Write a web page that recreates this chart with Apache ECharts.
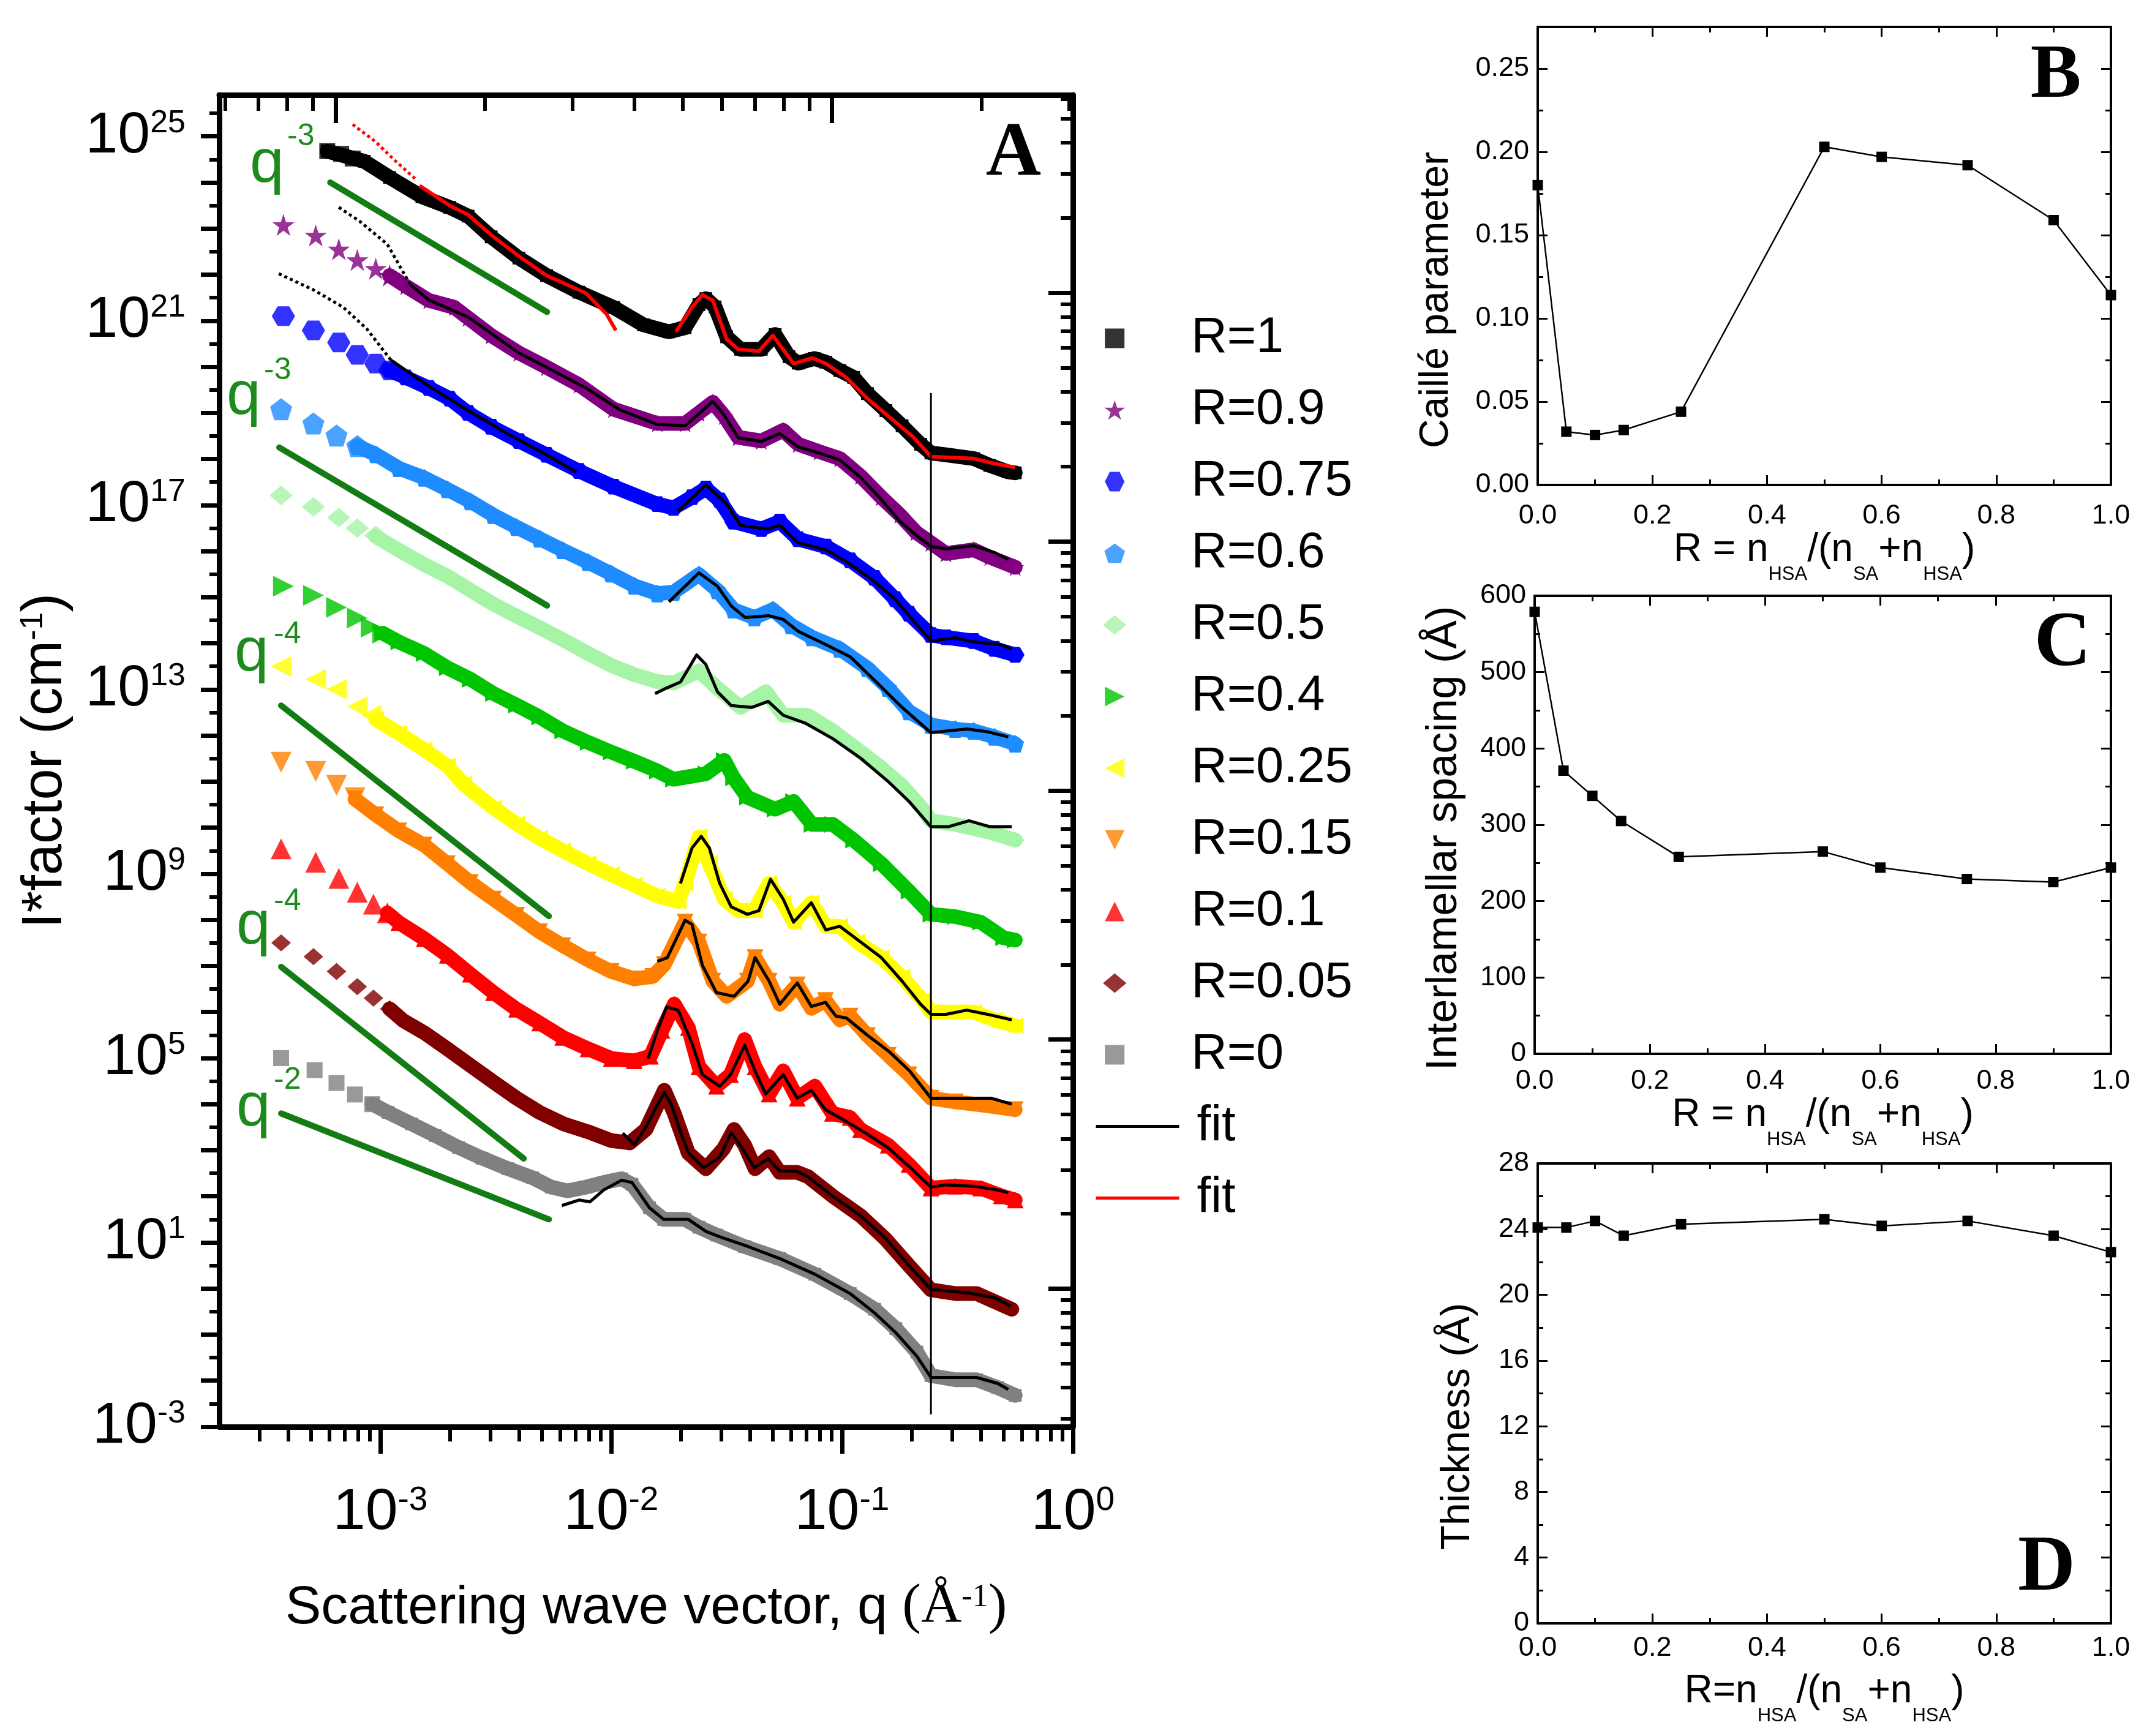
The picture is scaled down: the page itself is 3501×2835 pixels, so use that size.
<!DOCTYPE html>
<html><head><meta charset="utf-8">
<script src="https://cdn.jsdelivr.net/npm/echarts@6.0.0/dist/echarts.min.js"></script>
<style>html,body{margin:0;padding:0;background:#fff}#c{width:3501px;height:2835px}</style>
</head><body><div id="c"></div>
<script>
// ===================== DATA (panel A: log10 q [Å^-1], log10 I*factor [cm^-1]) =====================
const R1_start = [[-3.23,24.68],[-3.17,24.62],[-3.12,24.52]];
const R1_band = [[-3.23,24.68],[-3.07,24.46],[-2.96,24.11],[-2.82,23.69],[-2.70,23.46],[-2.62,23.27],[-2.52,22.82],[-2.40,22.36],[-2.28,21.98],[-2.14,21.62],[-1.99,21.29],[-1.86,20.91],[-1.75,20.76],[-1.68,20.85],[-1.62,21.35],[-1.59,21.48],[-1.55,21.30],[-1.50,20.65],[-1.44,20.38],[-1.35,20.38],[-1.29,20.70],[-1.23,20.22],[-1.19,20.08],[-1.12,20.18],[-1.07,20.10],[-1.01,19.92],[-0.95,19.77],[-0.89,19.42],[-0.81,19.05],[-0.74,18.72],[-0.66,18.32],[-0.615,18.13],[-0.55,18.09],[-0.43,18.01],[-0.36,17.86],[-0.28,17.72],[-0.25,17.70]];
const R09_start = [[-3.42,23.08],[-3.28,22.85],[-3.18,22.55],[-3.10,22.32],[-3.02,22.13],[-2.96,21.98]];
const R09_band = [[-2.96,21.98],[-2.89,21.75],[-2.79,21.44],[-2.68,21.29],[-2.62,21.06],[-2.52,20.68],[-2.40,20.30],[-2.28,19.99],[-2.14,19.61],[-1.99,19.08],[-1.80,18.77],[-1.68,18.77],[-1.62,19.00],[-1.56,19.23],[-1.51,18.93],[-1.45,18.47],[-1.35,18.39],[-1.255,18.62],[-1.19,18.32],[-1.10,18.16],[-1.01,18.01],[-0.92,17.63],[-0.83,17.17],[-0.75,16.79],[-0.68,16.41],[-0.615,16.18],[-0.55,15.95],[-0.43,16.03],[-0.36,15.87],[-0.25,15.65]];
const R075_start = [[-3.42,21.10],[-3.29,20.79],[-3.18,20.53],[-3.10,20.26],[-3.02,20.07],[-2.96,19.92]];
const R075_band = [[-2.96,19.92],[-2.89,19.77],[-2.79,19.54],[-2.70,19.31],[-2.62,19.00],[-2.52,18.70],[-2.40,18.39],[-2.28,18.09],[-2.14,17.74],[-1.99,17.40],[-1.80,17.02],[-1.73,16.94],[-1.65,17.17],[-1.59,17.36],[-1.53,17.10],[-1.47,16.64],[-1.35,16.48],[-1.27,16.64],[-1.19,16.26],[-1.07,16.10],[-0.965,15.80],[-0.86,15.42],[-0.77,14.96],[-0.71,14.64],[-0.615,14.18],[-0.55,14.13],[-0.43,14.05],[-0.34,13.88],[-0.25,13.75]];
const R06_start = [[-3.43,19.08],[-3.29,18.77],[-3.19,18.51],[-3.10,18.28]];
const R06_band = [[-3.10,18.28],[-3.02,18.10],[-2.92,17.80],[-2.81,17.59],[-2.71,17.34],[-2.61,17.08],[-2.51,16.78],[-2.41,16.52],[-2.31,16.27],[-2.21,16.02],[-2.10,15.76],[-2.00,15.51],[-1.90,15.25],[-1.80,15.08],[-1.73,15.11],[-1.62,15.49],[-1.54,15.15],[-1.47,14.73],[-1.38,14.56],[-1.30,14.73],[-1.22,14.39],[-1.13,14.13],[-1.01,13.88],[-0.89,13.46],[-0.80,13.03],[-0.71,12.52],[-0.615,12.23],[-0.51,12.14],[-0.43,12.10],[-0.34,11.97],[-0.25,11.82]];
const R05_start = [[-3.43,17.21],[-3.29,16.96],[-3.18,16.73],[-3.10,16.50],[-3.02,16.34]];
const R05_band = [[-3.02,16.32],[-2.92,16.02],[-2.81,15.71],[-2.71,15.46],[-2.61,15.15],[-2.51,14.85],[-2.41,14.59],[-2.31,14.34],[-2.21,14.08],[-2.10,13.78],[-2.00,13.52],[-1.90,13.32],[-1.80,13.17],[-1.73,13.14],[-1.62,13.40],[-1.54,13.03],[-1.44,12.61],[-1.33,12.95],[-1.255,12.44],[-1.15,12.44],[-1.04,12.10],[-0.95,11.76],[-0.84,11.34],[-0.74,10.91],[-0.65,10.40],[-0.615,10.15],[-0.51,10.07],[-0.36,9.90],[-0.25,9.73]];
const R04_start = [[-3.42,15.24],[-3.29,15.04],[-3.19,14.78],[-3.10,14.55],[-3.04,14.35],[-2.99,14.22]];
const R04_band = [[-2.99,14.22],[-2.92,14.03],[-2.81,13.78],[-2.71,13.47],[-2.61,13.22],[-2.51,12.91],[-2.41,12.66],[-2.31,12.40],[-2.21,12.10],[-2.10,11.85],[-2.00,11.64],[-1.90,11.44],[-1.80,11.23],[-1.73,11.05],[-1.59,11.17],[-1.51,11.46],[-1.47,11.08],[-1.41,10.66],[-1.29,10.40],[-1.21,10.57],[-1.13,10.07],[-1.04,10.07],[-0.95,9.73],[-0.83,9.22],[-0.71,8.62],[-0.615,8.12],[-0.51,8.07],[-0.40,7.95],[-0.30,7.61],[-0.25,7.56]];
const R025_start = [[-3.43,13.50],[-3.28,13.22],[-3.19,13.00],[-3.10,12.63],[-3.04,12.44]];
const R025_band = [[-3.02,12.35],[-2.92,12.05],[-2.81,11.69],[-2.71,11.34],[-2.64,10.95],[-2.51,10.43],[-2.41,10.08],[-2.31,9.77],[-2.21,9.50],[-2.10,9.22],[-2.00,8.98],[-1.90,8.75],[-1.80,8.52],[-1.71,8.40],[-1.68,8.79],[-1.62,9.80],[-1.575,9.22],[-1.51,8.45],[-1.45,8.20],[-1.38,8.20],[-1.316,8.79],[-1.255,8.37],[-1.21,7.95],[-1.133,8.37],[-1.07,7.86],[-1.01,7.86],[-0.935,7.52],[-0.83,7.18],[-0.74,6.76],[-0.65,6.25],[-0.615,6.00],[-0.51,6.00],[-0.43,6.00],[-0.34,5.83],[-0.25,5.70]];
const R015_start = [[-3.43,11.42],[-3.28,11.22],[-3.19,10.92],[-3.11,10.65]];
const R015_band = [[-3.11,10.62],[-3.02,10.28],[-2.92,9.93],[-2.81,9.62],[-2.71,9.22],[-2.61,8.81],[-2.51,8.45],[-2.41,8.10],[-2.31,7.74],[-2.21,7.44],[-2.10,7.13],[-2.00,6.88],[-1.90,6.72],[-1.82,6.77],[-1.77,7.03],[-1.68,7.95],[-1.62,7.52],[-1.56,6.67],[-1.50,6.34],[-1.41,6.67],[-1.377,7.18],[-1.316,6.67],[-1.27,6.17],[-1.194,6.59],[-1.133,6.08],[-1.072,6.25],[-1.01,5.83],[-0.965,5.91],[-0.89,5.49],[-0.80,5.06],[-0.71,4.64],[-0.615,4.13],[-0.51,4.05],[-0.36,3.96],[-0.25,3.88]];
const R01_start = [[-3.43,9.54],[-3.28,9.25],[-3.18,8.90],[-3.10,8.60],[-3.03,8.34],[-2.97,8.15]];
const R01_band = [[-2.97,8.15],[-2.92,7.94],[-2.81,7.59],[-2.71,7.23],[-2.61,6.82],[-2.51,6.42],[-2.41,6.06],[-2.31,5.76],[-2.21,5.45],[-2.10,5.20],[-2.00,4.99],[-1.90,4.94],[-1.83,5.04],[-1.78,5.60],[-1.727,6.17],[-1.666,5.66],[-1.62,4.81],[-1.544,4.39],[-1.483,4.64],[-1.422,5.40],[-1.377,4.81],[-1.316,4.22],[-1.255,4.72],[-1.194,4.13],[-1.118,4.39],[-1.042,3.80],[-0.965,3.71],[-0.92,3.45],[-0.80,3.11],[-0.71,2.69],[-0.615,2.18],[-0.51,2.22],[-0.40,2.18],[-0.31,2.01],[-0.25,1.92]];
const R005_start = [[-3.43,7.50],[-3.29,7.20],[-3.19,6.88],[-3.10,6.55],[-3.03,6.30],[-2.96,6.07]];
const R005_band = [[-2.96,6.07],[-2.90,5.81],[-2.81,5.55],[-2.71,5.20],[-2.61,4.84],[-2.51,4.48],[-2.41,4.13],[-2.31,3.82],[-2.205,3.57],[-2.10,3.40],[-2.00,3.21],[-1.92,3.16],[-1.85,3.45],[-1.80,3.98],[-1.77,4.30],[-1.727,3.80],[-1.666,2.94],[-1.59,2.60],[-1.514,3.03],[-1.468,3.45],[-1.422,3.11],[-1.377,2.60],[-1.316,2.86],[-1.27,2.52],[-1.194,2.52],[-1.148,2.43],[-1.042,2.01],[-0.92,1.58],[-0.813,1.08],[-0.707,0.48],[-0.615,-0.03],[-0.508,-0.11],[-0.417,-0.11],[-0.341,-0.28],[-0.265,-0.45]];
const R0_start = [[-3.43,5.00],[-3.285,4.74],[-3.19,4.46],[-3.11,4.21],[-3.035,4.00]];
const R0_band = [[-3.035,4.00],[-2.966,3.82],[-2.864,3.57],[-2.763,3.32],[-2.661,3.06],[-2.56,2.83],[-2.447,2.60],[-2.34,2.40],[-2.26,2.20],[-2.19,2.12],[-2.11,2.20],[-2.032,2.30],[-1.955,2.38],[-1.91,2.26],[-1.834,1.75],[-1.773,1.50],[-1.681,1.50],[-1.62,1.33],[-1.544,1.16],[-1.422,0.91],[-1.27,0.65],[-1.118,0.31],[-0.965,-0.11],[-0.859,-0.45],[-0.767,-0.87],[-0.676,-1.38],[-0.615,-1.89],[-0.508,-1.98],[-0.417,-1.98],[-0.326,-2.15],[-0.25,-2.32]];

// fits
const R1_fitExt = [[-3.12,25.26],[-3.02,24.88],[-2.94,24.49],[-2.84,24.04]];
const R1_fitA = [[-2.83,23.93],[-2.70,23.50],[-2.62,23.30],[-2.52,22.86],[-2.40,22.40],[-2.28,21.98],[-2.11,21.60],[-2.02,21.14],[-1.98,20.79]];
const R1_fitB = [[-1.72,20.76],[-1.65,21.29],[-1.605,21.56],[-1.56,21.44],[-1.50,20.60],[-1.45,20.38],[-1.36,20.34],[-1.30,20.68],[-1.21,20.07],[-1.13,20.19],[-1.07,20.07],[-0.98,19.76],[-0.89,19.31],[-0.80,18.93],[-0.69,18.47],[-0.615,18.05],[-0.43,18.01],[-0.34,17.90],[-0.25,17.82]];
const R09_fitExt = [[-3.18,23.46],[-3.09,23.16],[-2.97,22.66],[-2.87,21.78]];
const R09_fit = [[-2.87,21.78],[-2.79,21.45],[-2.62,21.08],[-2.40,20.30],[-2.28,19.99],[-2.11,19.54],[-1.96,19.06],[-1.80,18.75],[-1.68,18.72],[-1.62,18.98],[-1.56,19.25],[-1.51,18.95],[-1.45,18.46],[-1.35,18.38],[-1.27,18.55],[-1.19,18.26],[-1.10,18.13],[-1.01,17.98],[-0.92,17.60],[-0.83,17.12],[-0.75,16.65],[-0.68,16.35],[-0.615,16.10],[-0.55,16.05],[-0.43,16.12],[-0.34,15.97],[-0.28,15.82]];
const R075_fitExt = [[-3.44,22.02],[-3.29,21.67],[-3.16,21.29],[-3.06,20.83],[-2.955,20.15]];
const R075_fitA = [[-2.955,20.15],[-2.79,19.58],[-2.62,19.05],[-2.45,18.55],[-2.28,18.09],[-2.15,17.71]];
const R075_fitB = [[-1.71,16.87],[-1.59,17.44],[-1.50,17.02],[-1.44,16.56],[-1.32,16.48],[-1.27,16.56],[-1.19,16.18],[-1.07,16.03],[-0.965,15.72],[-0.86,15.34],[-0.77,14.96],[-0.71,14.60],[-0.615,14.05],[-0.51,14.12],[-0.43,14.03],[-0.31,13.97],[-0.265,13.88]];
const R06_fit = [[-1.75,14.90],[-1.62,15.53],[-1.54,15.24],[-1.48,14.81],[-1.42,14.56],[-1.32,14.60],[-1.255,14.52],[-1.19,14.26],[-1.07,13.97],[-0.965,13.71],[-0.86,13.20],[-0.74,12.61],[-0.615,12.06],[-0.54,12.10],[-0.46,12.14],[-0.37,12.08],[-0.28,11.97]];
const R05_fit = [[-1.81,12.91],[-1.76,13.03],[-1.70,13.16],[-1.63,13.75],[-1.59,13.54],[-1.54,12.95],[-1.48,12.65],[-1.39,12.61],[-1.32,12.74],[-1.255,12.44],[-1.16,12.27],[-1.04,11.93],[-0.92,11.51],[-0.80,11.00],[-0.71,10.57],[-0.615,10.02],[-0.54,10.02],[-0.45,10.15],[-0.36,10.02],[-0.265,10.02]];
const R025_fit = [[-1.70,8.79],[-1.65,9.56],[-1.61,9.81],[-1.575,9.56],[-1.53,8.79],[-1.48,8.28],[-1.41,8.12],[-1.36,8.20],[-1.31,8.88],[-1.255,8.45],[-1.21,7.95],[-1.133,8.37],[-1.07,7.78],[-1.01,7.86],[-0.92,7.52],[-0.83,7.18],[-0.74,6.67],[-0.66,6.17],[-0.615,5.95],[-0.55,5.95],[-0.46,6.04],[-0.37,5.95],[-0.265,5.83]];
const R015_fit = [[-1.80,7.10],[-1.757,7.18],[-1.68,7.99],[-1.65,7.90],[-1.605,7.01],[-1.544,6.42],[-1.468,6.34],[-1.407,6.67],[-1.377,7.18],[-1.316,6.67],[-1.27,6.17],[-1.194,6.63],[-1.133,6.12],[-1.072,6.21],[-1.026,5.91],[-0.981,5.87],[-0.889,5.49],[-0.798,5.15],[-0.707,4.72],[-0.615,4.13],[-0.508,4.13],[-0.356,4.13],[-0.265,4.00]];
const R01_fit = [[-1.84,4.99],[-1.80,5.60],[-1.76,6.11],[-1.74,6.08],[-1.71,6.04],[-1.65,5.32],[-1.605,4.64],[-1.53,4.39],[-1.483,4.64],[-1.422,5.28],[-1.377,4.72],[-1.331,4.22],[-1.255,4.64],[-1.194,4.13],[-1.133,4.30],[-1.072,3.88],[-0.98,3.62],[-0.89,3.35],[-0.80,3.05],[-0.71,2.65],[-0.615,2.20],[-0.55,2.25],[-0.43,2.22],[-0.34,2.15],[-0.28,2.08]];
const R005_fit = [[-1.95,3.37],[-1.90,3.12],[-1.85,3.50],[-1.80,3.98],[-1.77,4.25],[-1.74,4.00],[-1.70,3.40],[-1.666,2.95],[-1.60,2.62],[-1.53,2.85],[-1.48,3.38],[-1.44,3.10],[-1.38,2.62],[-1.32,2.82],[-1.27,2.55],[-1.20,2.55],[-1.15,2.43],[-1.04,2.00],[-0.92,1.58],[-0.81,1.08],[-0.71,0.50],[-0.615,-0.02],[-0.55,-0.05],[-0.45,-0.10],[-0.34,-0.20],[-0.27,-0.38]];
const R0_fit = [[-2.214,1.80],[-2.138,1.92],[-2.092,1.88],[-2.032,2.14],[-1.955,2.35],[-1.91,2.30],[-1.834,1.75],[-1.773,1.50],[-1.666,1.50],[-1.59,1.24],[-1.529,1.12],[-1.407,0.91],[-1.27,0.65],[-1.118,0.31],[-0.965,-0.11],[-0.859,-0.53],[-0.767,-0.96],[-0.676,-1.47],[-0.615,-1.93],[-0.508,-1.93],[-0.417,-1.93],[-0.326,-2.06],[-0.28,-2.19]];

// power-law guide lines (q^-3, q^-3, q^-4, q^-4, q^-2)
const guide_q3a = [[-3.217,24.00],[-2.278,21.19]];
const guide_q3b = [[-3.438,18.25],[-2.278,14.82]];
const guide_q4a = [[-3.43,12.65],[-2.27,8.08]];
const guide_q4b = [[-3.43,6.98],[-2.379,2.82]];
const guide_q2 = [[-3.43,3.80],[-2.27,1.50]];
const guide_labels = ['-3','-3','-4','-4','-2'];
// vertical marker line at q ≈ 0.243 Å^-1
const vline = [[-0.615,-2.73],[-0.615,19.43]];
// axis tick labels (decades)
const A_xTickLabels = [-3,-2,-1,0];
const A_yTickLabels = [-3,1,5,9,13,17,21,25];

// ===================== DATA (panels B, C, D) =====================
const R_values = [0, 0.05, 0.1, 0.15, 0.25, 0.5, 0.6, 0.75, 0.9, 1.0];
const caille = [0.180, 0.032, 0.030, 0.033, 0.044, 0.203, 0.197, 0.192, 0.159, 0.114];
const spacing = [579, 371, 338, 305, 258, 265, 244, 229, 225, 244];
const thickness = [24.1, 24.1, 24.5, 23.6, 24.3, 24.6, 24.2, 24.5, 23.6, 22.6];

// ===================== STYLE =====================
const FONT = 'Liberation Sans';
const SERIF = 'Liberation Serif';
const RECT = 'path://M0,0 L100,0 L100,100 L0,100 Z';
const STAR = 'path://M50,0 L61.8,35.5 L99,35.5 L69,57.5 L80.5,93 L50,71 L19.5,93 L31,57.5 L1,35.5 L38.2,35.5 Z';
const HEX = 'path://M25,0 L75,0 L100,50 L75,100 L25,100 L0,50 Z';
const PENT = 'path://M50,0 L100,36 L81,95 L19,95 L0,36 Z';
const DIAM = 'path://M60,0 L120,50 L60,100 L0,50 Z';
const RTRI = 'path://M0,0 L100,50 L0,100 Z';
const LTRI = 'path://M100,0 L0,50 L100,100 Z';
const DTRI = 'path://M0,0 L100,0 L50,100 Z';
const UTRI = 'path://M50,0 L100,100 L0,100 Z';
const GREEN_LINE = '#137c13';
const GREEN_TXT = '#1c8a1c';

const A_SETS = [
  {name:'R=1', color:'#000000', symbol:RECT, size:26, start:R1_start, band:R1_band},
  {name:'R=0.9', color:'#800080', symbol:STAR, size:36, start:R09_start, band:R09_band},
  {name:'R=0.75', color:'#0000ff', symbol:HEX, size:[38,32], start:R075_start, band:R075_band},
  {name:'R=0.6', color:'#1e8cff', symbol:PENT, size:36, start:R06_start, band:R06_band},
  {name:'R=0.5', color:'#a6f4a6', symbol:DIAM, size:[38,32], start:R05_start, band:R05_band},
  {name:'R=0.4', color:'#00c400', symbol:RTRI, size:34, start:R04_start, band:R04_band},
  {name:'R=0.25', color:'#ffff00', symbol:LTRI, size:34, start:R025_start, band:R025_band},
  {name:'R=0.15', color:'#ff8000', symbol:DTRI, size:34, start:R015_start, band:R015_band},
  {name:'R=0.1', color:'#ff0000', symbol:UTRI, size:34, start:R01_start, band:R01_band},
  {name:'R=0.05', color:'#800000', symbol:DIAM, size:[32,28], start:R005_start, band:R005_band},
  {name:'R=0', color:'#808080', symbol:RECT, size:26, start:R0_start, band:R0_band}
];
const A_FITS = [
  {name:'fit', color:'#000', data:R09_fit},
  {name:'fit', color:'#000', data:R075_fitA},
  {name:'fit', color:'#000', data:R075_fitB},
  {name:'fit', color:'#000', data:R06_fit},
  {name:'fit', color:'#000', data:R05_fit},
  {name:'fit', color:'#000', data:R025_fit},
  {name:'fit', color:'#000', data:R015_fit},
  {name:'fit', color:'#000', data:R01_fit},
  {name:'fit', color:'#000', data:R005_fit},
  {name:'fit', color:'#000', data:R0_fit},
  {name:'fit ', color:'#ff0000', data:R1_fitA, width:6},
  {name:'fit ', color:'#ff0000', data:R1_fitB, width:6},
  {name:'fit extrapolation (red)', color:'#ff0000', data:R1_fitExt, dotted:true},
  {name:'fit extrapolation', color:'#000', data:R09_fitExt, dotted:true},
  {name:'fit extrapolation', color:'#000', data:R075_fitExt, dotted:true}
];
const GUIDES = [guide_q3a, guide_q3b, guide_q4a, guide_q4b, guide_q2];

// ===================== BUILD =====================
const series = [];
const scaleSize = (s, f) => Array.isArray(s) ? s.map(v => v*f) : s*f;
A_SETS.forEach(s => {
  series.push({name:s.name, type:'scatter', xAxisIndex:0, yAxisIndex:0, data:s.start,
    symbol:s.symbol, symbolSize:s.size, itemStyle:{color:s.color}, z:3, silent:true, animation:false});
});
A_SETS.forEach(s => {
  series.push({name:s.name, type:'line', xAxisIndex:0, yAxisIndex:0, data:s.band,
    symbol:s.symbol, symbolSize:scaleSize(s.size,0.8), showSymbol:true, showAllSymbol:true,
    itemStyle:{color:s.color}, lineStyle:{color:s.color, width:24, join:'round', cap:'round'},
    z:2, silent:true, animation:false});
});
GUIDES.forEach(g => series.push({name:'power law', type:'line', xAxisIndex:0, yAxisIndex:0, data:g,
  symbol:'none', lineStyle:{color:GREEN_LINE, width:10, cap:'round'}, z:4, silent:true, animation:false}));
A_FITS.forEach(f => series.push({name:f.name, type:'line', xAxisIndex:0, yAxisIndex:0, data:f.data,
  symbol:'none', lineStyle:{color:f.color, width:f.width||5, type:f.dotted?'dotted':'solid', join:'round'},
  itemStyle:{color:f.color}, z:5, silent:true, animation:false}));
series.push({name:'q limit', type:'line', xAxisIndex:0, yAxisIndex:0, data:vline, symbol:'none',
  lineStyle:{color:'#000', width:3}, z:6, silent:true, animation:false});

// panels B-D
[[caille,1],[spacing,2],[thickness,3]].forEach(([vals, gi]) => {
  series.push({name:'panel'+gi, type:'line', xAxisIndex:4+(gi-1)*2, yAxisIndex:4+(gi-1)*2,
    data:R_values.map((r,i)=>[r, vals[i]]), symbol:'rect', symbolSize:17,
    itemStyle:{color:'#000'}, lineStyle:{color:'#000', width:2.5}, z:3, animation:false, clip:false});
});

function logMinor(lo, hi){ const out=[]; for(let n=Math.floor(lo)-1;n<=Math.ceil(hi);n++){ for(let m=2;m<=9;m++){ const v=n+Math.log10(m); if(v>lo+1e-6 && v<hi-1e-6) out.push(+v.toFixed(5)); } } return out; }
function range(a,b,step){ const o=[]; for(let v=a; v<=b+1e-9; v+=step) o.push(+v.toFixed(4)); return o; }

const supRichY = {
  b:{fontSize:95, lineHeight:95, verticalAlign:'bottom', fontFamily:FONT, color:'#000'},
  s:{fontSize:52, lineHeight:52, verticalAlign:'top', padding:[0,0,60,0], fontFamily:FONT, color:'#000'}
};
const supRichX = {
  b:{fontSize:95, lineHeight:95, verticalAlign:'bottom', fontFamily:FONT, color:'#000'},
  s:{fontSize:55, lineHeight:55, verticalAlign:'top', padding:[0,0,55,0], fontFamily:FONT, color:'#000'}
};
const supFmt = v => '{b|10}{s|' + Math.round(v) + '}';
const BLK = '#000';
const hideAx = {show:false, onZero:false};

const xAxes = [
  {gridIndex:0, type:'value', min:-3.698, max:0, position:'bottom',
   axisLine:{onZero:false, lineStyle:{color:BLK, width:9}},
   axisTick:{show:true, inside:false, length:44, lineStyle:{color:BLK, width:7}, customValues:A_xTickLabels},
   axisLabel:{show:true, margin:93, customValues:A_xTickLabels, formatter:supFmt, rich:supRichX},
   splitLine:{show:false},
   name:'{a|Scattering wave vector, q }{t|(Å}{s|-1}{t|)}', nameLocation:'middle', nameGap:253,
   nameTextStyle:{rich:{
     a:{fontSize:88, lineHeight:88, verticalAlign:'bottom', fontFamily:FONT, color:BLK},
     t:{fontSize:92, lineHeight:88, verticalAlign:'bottom', fontFamily:SERIF, color:BLK},
     s:{fontSize:52, lineHeight:52, verticalAlign:'top', padding:[0,0,56,0], fontFamily:SERIF, color:BLK}}}},
  {gridIndex:0, type:'value', min:-3.698, max:0, position:'bottom', axisLine:hideAx,
   axisTick:{show:true, inside:false, length:24, lineStyle:{color:BLK, width:6}, customValues:logMinor(-3.698,0)},
   axisLabel:{show:false}, splitLine:{show:false}},
  {gridIndex:0, type:'value', min:-0.234, max:1.485, position:'top',
   axisLine:{onZero:false, lineStyle:{color:BLK, width:9}},
   axisTick:{show:true, inside:true, length:46, lineStyle:{color:BLK, width:7}, customValues:[0,1]},
   axisLabel:{show:false}, splitLine:{show:false}},
  {gridIndex:0, type:'value', min:-0.234, max:1.485, position:'top', axisLine:hideAx,
   axisTick:{show:true, inside:true, length:26, lineStyle:{color:BLK, width:6}, customValues:logMinor(-0.234,1.485)},
   axisLabel:{show:false}, splitLine:{show:false}}
];
const yAxes = [
  {gridIndex:0, type:'value', min:-3, max:25.9, position:'left',
   axisLine:{onZero:false, lineStyle:{color:BLK, width:9}},
   axisTick:{show:true, inside:false, length:30, lineStyle:{color:BLK, width:7}, customValues:range(-3,25,1)},
   axisLabel:{show:true, margin:55, customValues:A_yTickLabels, formatter:supFmt, rich:supRichY},
   splitLine:{show:false},
   name:'{a|I*factor (cm}{s|-1}{a|)}', nameLocation:'middle', nameGap:193,
   nameTextStyle:{rich:{
     a:{fontSize:92, lineHeight:92, verticalAlign:'bottom', fontFamily:FONT, color:BLK},
     s:{fontSize:52, lineHeight:52, verticalAlign:'top', padding:[0,0,55,0], fontFamily:FONT, color:BLK}}}},
  {gridIndex:0, type:'value', min:-3, max:25.9, position:'left', axisLine:hideAx,
   axisTick:{show:true, inside:false, length:16, lineStyle:{color:BLK, width:6}, customValues:range(-2.5,25.5,1)},
   axisLabel:{show:false}, splitLine:{show:false}},
  {gridIndex:0, type:'value', min:-0.555, max:4.794, position:'right',
   axisLine:{onZero:false, lineStyle:{color:BLK, width:9}},
   axisTick:{show:true, inside:true, length:40, lineStyle:{color:BLK, width:7}, customValues:[0,1,2,3,4]},
   axisLabel:{show:false}, splitLine:{show:false}},
  {gridIndex:0, type:'value', min:-0.555, max:4.794, position:'right', axisLine:hideAx,
   axisTick:{show:true, inside:true, length:20, lineStyle:{color:BLK, width:6}, customValues:logMinor(-0.555,4.794)},
   axisLabel:{show:false}, splitLine:{show:false}}
];

const titleRich = {
  a:{fontSize:64, lineHeight:64, verticalAlign:'top', fontFamily:FONT, color:BLK},
  sub:{fontSize:31, lineHeight:31, verticalAlign:'top', padding:[57,0,0,0], fontFamily:FONT, color:BLK}
};
const smallPanels = [
  {gi:1, ymax:0.275, yint:0.05, yfmt:v=>v.toFixed(2), yname:'Caillé parameter', yfs:66, ypad:72, ygap:132,
   xname:'{a|R = n}{sub|HSA}{a|/(n}{sub|SA}{a|+n}{sub|HSA}{a|)}', xgap:70, xmargin:28},
  {gi:2, ymax:600, yint:100, yfmt:v=>String(v), yname:'Interlamellar spacing (Å)', yfs:70, ypad:22, ygap:112,
   xname:'{a|R = n}{sub|HSA}{a|/(n}{sub|SA}{a|+n}{sub|HSA}{a|)}', xgap:64, xmargin:22},
  {gi:3, ymax:28, yint:4, yfmt:v=>String(v), yname:'Thickness (Å)', yfs:66, ypad:54, ygap:97,
   xname:'{a|R=n}{sub|HSA}{a|/(n}{sub|SA}{a|+n}{sub|HSA}{a|)}', xgap:79, xmargin:18}
];
const tickS = {show:true, inside:true, length:16, lineStyle:{color:BLK, width:3}};
const minorS = {show:true, splitNumber:2, length:9, lineStyle:{color:BLK, width:3}};
smallPanels.forEach(p => {
  xAxes.push({gridIndex:p.gi, type:'value', min:0, max:1, interval:0.2, position:'bottom',
    axisLine:{onZero:false, lineStyle:{color:BLK, width:4}}, axisTick:tickS, minorTick:minorS,
    axisLabel:{fontSize:45, fontFamily:FONT, color:BLK, margin:p.xmargin, formatter:v=>v.toFixed(1)},
    splitLine:{show:false}, minorSplitLine:{show:false},
    name:p.xname, nameLocation:'middle', nameGap:p.xgap, nameTextStyle:{rich:titleRich}});
  xAxes.push({gridIndex:p.gi, type:'value', min:0, max:1, interval:0.2, position:'top',
    axisLine:{onZero:false, lineStyle:{color:BLK, width:4}}, axisTick:tickS, minorTick:minorS,
    axisLabel:{show:false}, splitLine:{show:false}});
  yAxes.push({gridIndex:p.gi, type:'value', min:0, max:p.ymax, interval:p.yint, position:'left',
    axisLine:{onZero:false, lineStyle:{color:BLK, width:4}}, axisTick:tickS, minorTick:minorS,
    axisLabel:{fontSize:45, fontFamily:FONT, color:BLK, margin:14, formatter:p.yfmt, showMaxLabel: p.gi===1 ? false : true},
    splitLine:{show:false},
    name:p.yname, nameLocation:'middle', nameGap:p.ygap,
    nameTextStyle:{fontSize:p.yfs, fontFamily:FONT, color:BLK, padding:[0,p.ypad*2,0,0]}});
  yAxes.push({gridIndex:p.gi, type:'value', min:0, max:p.ymax, interval:p.yint, position:'right',
    axisLine:{onZero:false, lineStyle:{color:BLK, width:4}}, axisTick:tickS, minorTick:minorS,
    axisLabel:{show:false}, splitLine:{show:false}});
});

// annotations
const graphic = [];
const qPos = [ // [qx, qyMid, supX, supYMid]
  [408,269,469,223],[370,648,431,605],[383,1067,447,1036],[386,1513,447,1472],[386,1810,447,1764]
];
qPos.forEach((p,i) => {
  graphic.push({type:'text', x:p[0], y:p[1], silent:true, style:{text:'q', fontSize:100, fontFamily:FONT, fill:GREEN_TXT, verticalAlign:'middle', textVerticalAlign:'middle'}});
  graphic.push({type:'text', x:p[2], y:p[3], silent:true, style:{text:guide_labels[i], fontSize:50, fontFamily:FONT, fill:GREEN_TXT, verticalAlign:'middle', textVerticalAlign:'middle'}});
});
[['A',1655,253,125],['B',3357,126,124],['C',3368,1053,128],['D',3342,2562,130]].forEach(l => {
  graphic.push({type:'text', x:l[1], y:l[2], silent:true, style:{text:l[0], fontSize:l[3], fontWeight:'bold', fontFamily:SERIF, fill:'#000',
    align:'center', textAlign:'center', verticalAlign:'middle', textVerticalAlign:'middle'}});
});

const legendText = {fontSize:81, fontFamily:FONT, color:'#000', lineHeight:80};
const option = {
  backgroundColor:'#ffffff',
  animation:false,
  textStyle:{fontFamily:FONT, color:'#000'},
  grid:[
    {left:358, right:1749, top:155, bottom:505, outerBoundsMode:'none', containLabel:false},
    {left:2511, right:54, top:44, bottom:2043, outerBoundsMode:'none', containLabel:false},
    {left:2506, right:54, top:973, bottom:1114, outerBoundsMode:'none', containLabel:false},
    {left:2511, right:54, top:1900, bottom:184, outerBoundsMode:'none', containLabel:false}
  ],
  xAxis:xAxes, yAxis:yAxes,
  legend:[
    {show:true, orient:'vertical', left:1796, top:507, itemWidth:80, itemHeight:32, itemGap:36,
     selectedMode:false, symbolKeepAspect:true,
     data:A_SETS.map(s => ({name:s.name, icon:s.symbol})),
     textStyle:Object.assign({padding:[0,0,0,80]}, legendText)},
    {show:true, orient:'vertical', left:1782, top:1794, itemWidth:136, itemHeight:28, itemGap:36,
     selectedMode:false, lineStyle:{width:5},
     data:[{name:'fit', itemStyle:{opacity:0}}, {name:'fit ', itemStyle:{opacity:0}}],
     textStyle:Object.assign({padding:[0,0,0,24]}, legendText)}
  ],
  graphic:graphic,
  series:series
};
const chart = echarts.init(document.getElementById('c'), null, {renderer:'canvas', width:3501, height:2835});
chart.setOption(option);
</script></body></html>
